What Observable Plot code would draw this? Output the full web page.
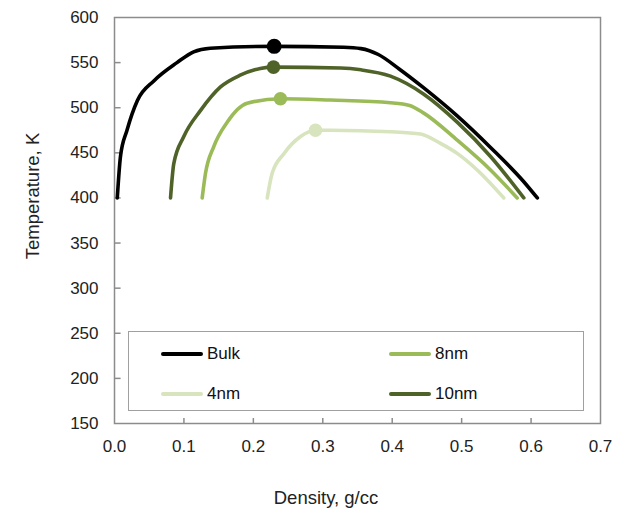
<!DOCTYPE html>
<html>
<head>
<meta charset="utf-8">
<script src="https://cdn.jsdelivr.net/npm/d3@7"></script>
<script src="https://cdn.jsdelivr.net/npm/@observablehq/plot@0.6"></script>
<style>
  html, body { margin: 0; padding: 0; background: #fff; }
  #wrap { position: relative; width: 621px; height: 510px; font-family: "Liberation Sans", Arial, sans-serif; color: #222; }
  #legend { position: absolute; left: 128px; top: 331px; width: 456px; height: 80px; border: 1.5px solid #a0a0a0; background: #fff; box-sizing: border-box; }
  .item { position: absolute; display: flex; align-items: center; font-size: 17px; color: #111; }
  .sw { width: 42px; height: 4px; border-radius: 2px; margin-right: 4px; }
  .title { position: absolute; font-size: 18.5px; white-space: nowrap; line-height: 1; }
</style>
</head>
<body>
<div id="wrap"></div>
<script>
const seriesNames = ["Bulk", "8nm", "4nm", "10nm"];
const seriesColors = ["#000000", "#9bbb59", "#d7e4bd", "#4f6228"];
const xTitle = "Density, g/cc";
const yTitle = "Temperature, K";

const bulkX = [0.004, 0.0086, 0.018, 0.033, 0.057, 0.09, 0.114, 0.138, 0.23, 0.33, 0.355, 0.38, 0.41, 0.4455, 0.4936, 0.5416, 0.5895, 0.609];
const bulkY = [400, 446, 475, 508, 530, 550, 562, 566, 568, 567, 565.5, 559, 543, 522, 491, 456, 418, 400];

const nm10X = [0.0807, 0.0854, 0.0998, 0.124, 0.1527, 0.181, 0.21, 0.229, 0.3255, 0.355, 0.3975, 0.4455, 0.4936, 0.5416, 0.5895];
const nm10Y = [400, 438, 468, 497, 523, 536, 543.5, 545, 544, 542, 535, 515, 484, 446, 400];

const nm8X = [0.1263, 0.131, 0.143, 0.1623, 0.191, 0.239, 0.311, 0.3975, 0.425, 0.4455, 0.4936, 0.5416, 0.58];
const nm8Y = [400, 427, 457, 484, 505, 510, 508.5, 505.5, 502.5, 494, 464, 431, 400];

const nm4X = [0.22, 0.227, 0.244, 0.268, 0.2895, 0.311, 0.3975, 0.4407, 0.4695, 0.4936, 0.5224, 0.5607];
const nm4Y = [400, 427, 449, 468, 475, 475, 473.3, 470.8, 460.5, 449.4, 431, 400];

const peakX = [0.23, 0.239, 0.2895, 0.229];
const peakY = [568, 510, 475, 545];

const xTicks = [0, 0.1, 0.2, 0.3, 0.4, 0.5, 0.6, 0.7];
const yTicks = [150, 200, 250, 300, 350, 400, 450, 500, 550, 600];

const xs = [bulkX, nm8X, nm4X, nm10X];
const ys = [bulkY, nm8Y, nm4Y, nm10Y];
const rows = [];
seriesNames.forEach((s, i) => xs[i].forEach((x, j) => rows.push({series: s, x, y: ys[i][j]})));
const peaks = seriesNames.map((s, i) => ({series: s, x: peakX[i], y: peakY[i]}));
const drawOrder = ["4nm", "8nm", "10nm", "Bulk"];

const marks = [
  Plot.frame({stroke: "#8c8c8c", strokeWidth: 1.5}),
  Plot.ruleX(xTicks.slice(1, -1), {y1: 150, y2: 155.5, stroke: "#8c8c8c", strokeWidth: 1.5}),
  Plot.ruleY(yTicks.slice(1, -1), {x1: 0, x2: 0.0095, stroke: "#8c8c8c", strokeWidth: 1.5}),
  Plot.axisX({ticks: xTicks, tickSize: 0, tickPadding: 16, tickFormat: d3.format(".1f"), fontSize: 17, label: null}),
  Plot.axisY({ticks: yTicks, tickSize: 0, tickPadding: 16, fontSize: 17, label: null})
];
drawOrder.forEach(s => {
  marks.push(Plot.line(rows.filter(r => r.series === s), {x: "x", y: "y", stroke: "series", strokeWidth: 3.6, curve: "monotone-x", strokeLinecap: "round", strokeLinejoin: "round"}));
  marks.push(Plot.dot(peaks.filter(r => r.series === s), {x: "x", y: "y", fill: "series", r: s === "Bulk" ? 7.5 : 6.8}));
});

const chart = Plot.plot({
  width: 621,
  height: 510,
  marginLeft: 114,
  marginRight: 21,
  marginTop: 17,
  marginBottom: 87,
  x: {domain: [0, 0.7]},
  y: {domain: [150, 600]},
  color: {domain: seriesNames, range: seriesColors},
  style: {fontFamily: "'Liberation Sans', Arial, sans-serif", fontSize: "17px", color: "#222", background: "transparent"},
  marks
});
const wrap = document.getElementById("wrap");
chart.style.position = "absolute";
chart.style.left = "0px";
chart.style.top = "0px";
wrap.appendChild(chart);

// axis titles
const xt = document.createElement("div");
xt.className = "title";
xt.textContent = xTitle;
xt.style.left = "326px";
xt.style.top = "498px";
xt.style.transform = "translate(-50%, -50%)";
wrap.appendChild(xt);
const yt = document.createElement("div");
yt.className = "title";
yt.textContent = yTitle;
yt.style.left = "33px";
yt.style.top = "196px";
yt.style.transform = "translate(-50%, -50%) rotate(-90deg)";
wrap.appendChild(yt);

const legend = document.createElement("div");
legend.id = "legend";
const pos = [[32, 12], [260, 12], [32, 52], [260, 52]];
seriesNames.forEach((s, i) => {
  const it = document.createElement("div");
  it.className = "item";
  it.style.left = pos[i][0] + "px";
  it.style.top = pos[i][1] + "px";
  const sw = document.createElement("span");
  sw.className = "sw";
  sw.style.background = seriesColors[i];
  it.appendChild(sw);
  const t = document.createElement("span");
  t.textContent = s;
  it.appendChild(t);
  legend.appendChild(it);
});
wrap.appendChild(legend);
</script>
</body>
</html>
